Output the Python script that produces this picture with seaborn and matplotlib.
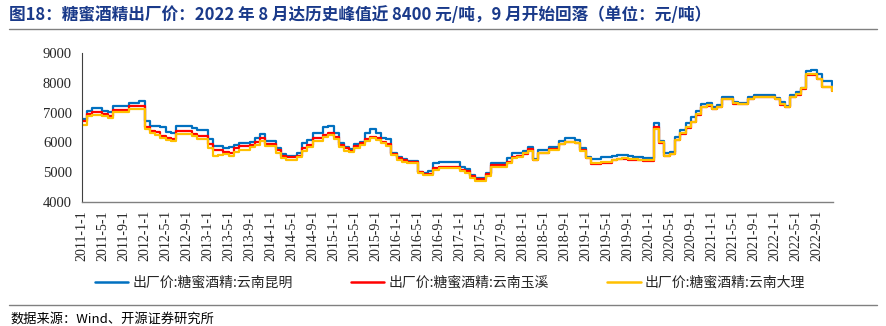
import matplotlib
matplotlib.use("Agg")
import matplotlib.pyplot as plt
from matplotlib.lines import Line2D
import pandas as pd
import seaborn as sns

# ---------------- data (monthly readings, 2011-01 .. 2022-11, plus last week) ----------------
series_names = ["出厂价:糖蜜酒精:云南昆明", "出厂价:糖蜜酒精:云南玉溪", "出厂价:糖蜜酒精:云南大理"]
series_colors = ["#0070C0", "#FF0000", "#FFC000"]

month_starts = list(pd.date_range("2011-01-01", "2022-11-01", freq="MS"))
last_obs = [pd.Timestamp("2022-11-28")]
dates = month_starts + last_obs

kunming = [
    6780, 7070, 7160, 7160, 7060, 7010, 7210, 7210, 7210, 7330, 7330, 7380,
    6730, 6560, 6560, 6510, 6360, 6310, 6560, 6560, 6560, 6480, 6400, 6400,
    6100, 5890, 5890, 5810, 5850, 5910, 5990, 5990, 6020, 6140, 6270, 6060,
    6030, 5800, 5610, 5550, 5550, 5650, 5970, 6080, 6330, 6330, 6500, 6550,
    6300, 5990, 5830, 5770, 5930, 6020, 6330, 6440, 6330, 6160, 6100, 5650,
    5500, 5430, 5380, 5380, 5000, 4960, 5040, 5300, 5350, 5350, 5350, 5350,
    5180, 5100, 4900, 4810, 4810, 4980, 5320, 5320, 5320, 5460, 5650, 5640,
    5700, 5830, 5430, 5750, 5750, 5830, 5830, 6050, 6140, 6140, 6080, 5800,
    5520, 5430, 5430, 5490, 5490, 5540, 5580, 5580, 5550, 5520, 5490, 5460,
    5460, 6640, 6030, 5630, 5690, 6170, 6400, 6650, 6850, 7050, 7300, 7340,
    7200, 7260, 7520, 7520, 7370, 7340, 7340, 7520, 7600, 7600, 7600, 7600,
    7500, 7350, 7220, 7600, 7690, 7840, 8420, 8440, 8290, 8070, 8070,
    7930,
]
yuxi = [
    6720, 6970, 7010, 7010, 6960, 6900, 7100, 7100, 7100, 7210, 7210, 7210,
    6500, 6370, 6340, 6220, 6130, 6110, 6390, 6390, 6390, 6290, 6200, 6200,
    5950, 5730, 5730, 5670, 5650, 5800, 5860, 5860, 5910, 6000, 6140, 5950,
    5950, 5740, 5550, 5490, 5490, 5550, 5800, 5910, 6140, 6140, 6250, 6330,
    6190, 5910, 5800, 5720, 5860, 5970, 6100, 6190, 6150, 6000, 5950, 5620,
    5470, 5390, 5330, 5330, 4990, 4940, 4940, 5130, 5180, 5180, 5180, 5180,
    5070, 5050, 4870, 4770, 4770, 4940, 5240, 5240, 5240, 5350, 5520, 5540,
    5600, 5770, 5410, 5650, 5650, 5770, 5770, 5950, 6020, 6020, 5990, 5740,
    5460, 5270, 5270, 5320, 5320, 5390, 5440, 5440, 5420, 5410, 5390, 5370,
    5370, 6500, 5980, 5540, 5600, 6080, 6280, 6480, 6680, 6930, 7180, 7240,
    7110, 7190, 7450, 7450, 7300, 7280, 7280, 7450, 7530, 7530, 7530, 7530,
    7450, 7270, 7190, 7530, 7610, 7810, 8280, 8280, 8120, 7860, 7860,
    7715,
]
dali = [
    6600, 6880, 6930, 6930, 6880, 6820, 7020, 7020, 7020, 7120, 7120, 7120,
    6450, 6330, 6260, 6150, 6080, 6060, 6290, 6290, 6290, 6200, 6110, 6110,
    5800, 5530, 5560, 5600, 5540, 5690, 5740, 5740, 5830, 5910, 6060, 5880,
    5880, 5630, 5460, 5410, 5410, 5490, 5720, 5830, 6060, 6060, 6190, 6250,
    6100, 5830, 5720, 5670, 5800, 5910, 6030, 6140, 6080, 5970, 5860, 5560,
    5410, 5330, 5300, 5300, 4960, 4900, 4900, 5070, 5130, 5130, 5130, 5130,
    5020, 4980, 4790, 4700, 4700, 4870, 5180, 5180, 5180, 5300, 5470, 5520,
    5630, 5700, 5410, 5630, 5630, 5750, 5750, 5940, 6000, 6000, 5970, 5720,
    5460, 5300, 5300, 5350, 5350, 5410, 5450, 5460, 5450, 5430, 5410, 5390,
    5390, 6450, 6000, 5550, 5600, 6080, 6300, 6500, 6700, 6950, 7200, 7260,
    7130, 7200, 7460, 7460, 7320, 7290, 7290, 7460, 7540, 7540, 7540, 7540,
    7460, 7280, 7200, 7540, 7620, 7820, 8290, 8290, 8140, 7880, 7880,
    7730,
]

tick_dates = list(pd.date_range("2011-01-01", "2022-09-01", freq="4MS"))
tick_labels = [f"{d.year}-{d.month}-{d.day}" for d in tick_dates]
y_ticks = [4000, 5000, 6000, 7000, 8000, 9000]

title = "图18：糖蜜酒精出厂价：2022 年 8 月达历史峰值近 8400 元/吨，9 月开始回落（单位：元/吨）"
source = "数据来源：Wind、开源证券研究所"

# ---------------- figure ----------------
sns.set_style("white")
plt.rcParams["font.family"] = ["Noto Sans CJK SC", "DejaVu Sans"]

fig = plt.figure(figsize=(8.86, 3.26), dpi=100)
ax = fig.add_axes([0.0922, 0.3813, 0.8480, 0.4552])

df = pd.DataFrame({
    "date": dates * 3,
    "price": kunming + yuxi + dali,
    "series": [series_names[0]] * len(kunming) + [series_names[1]] * len(yuxi) + [series_names[2]] * len(dali),
})
sns.lineplot(data=df, x="date", y="price", hue="series", hue_order=series_names,
             palette=series_colors, drawstyle="steps-post", linewidth=1.6,
             estimator=None, errorbar=None, legend=False, ax=ax)

ax.set_xlim(pd.Timestamp("2011-01-01"), pd.Timestamp("2022-12-04"))
ax.set_ylim(4000, 9000)
ax.set_xlabel("")
ax.set_ylabel("")
ax.set_xticks(tick_dates)
ax.set_xticklabels(tick_labels, rotation=90, fontsize=10, family="Liberation Serif")
ax.set_yticks(y_ticks)
ax.set_yticklabels([str(v) for v in y_ticks], fontsize=10.5, family="Liberation Serif")
ax.tick_params(axis="x", direction="in", length=4, width=0.8, color="#808080", pad=6)
ax.tick_params(axis="y", direction="out", length=4, width=0.8, color="#404040", pad=3)
for s in ["top", "right"]:
    ax.spines[s].set_visible(False)
ax.spines["left"].set_color("#404040")
ax.spines["bottom"].set_color("#808080")
ax.spines["left"].set_linewidth(0.8)
ax.spines["bottom"].set_linewidth(1.0)
ax.grid(False)

# legend
handles = [Line2D([0], [0], color=c, lw=1.8) for c in series_colors]
fig.legend(handles, series_names, loc="center", bbox_to_anchor=(0.508, 0.132), ncol=3,
           frameon=False, fontsize=10, handlelength=2.4, handletextpad=0.3, columnspacing=4.2)

# title, rules, source
fig.text(0.010, 0.955, title, fontsize=12, fontweight="bold", color="#1A3A8A",
         ha="left", va="center")
fig.add_artist(Line2D([0.010, 0.990], [0.910, 0.910], color="#808080", lw=1.0))
fig.add_artist(Line2D([0.010, 0.990], [0.065, 0.065], color="#808080", lw=1.0))
fig.text(0.012, 0.022, source, fontsize=9.5, color="#000000", ha="left", va="center")

fig.savefig("out.png", dpi=100)
